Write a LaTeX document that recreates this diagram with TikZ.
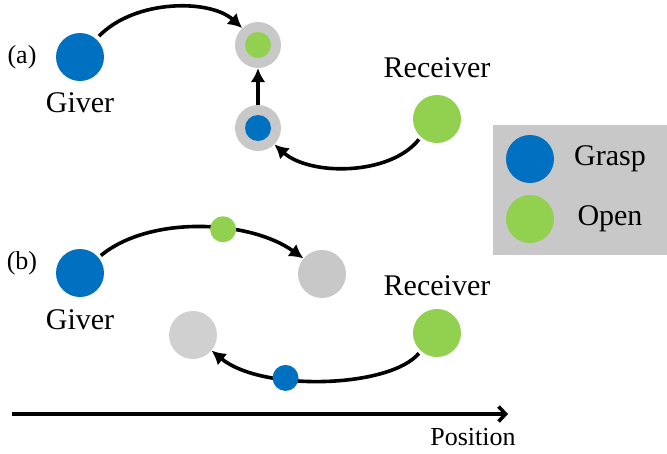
\documentclass[tikz,border=0pt]{standalone}
\usepackage{fontspec}
\setmainfont{Liberation Serif}
\usetikzlibrary{arrows.meta}
\definecolor{graspblue}{RGB}{0,112,192}
\definecolor{opengreen}{RGB}{146,208,80}
\definecolor{ringgray}{RGB}{200,200,200}
\definecolor{ghostgray}{RGB}{208,208,208}
\tikzset{
  dot/.style={circle, inner sep=0pt, minimum size=#1},
  bigdot/.style={dot=48pt},
  smalldot/.style={dot=26pt},
  lbl/.style={font=\fontsize{30}{32}\selectfont, inner sep=0pt},
  small lbl/.style={font=\fontsize{26}{28}\selectfont, inner sep=0pt},
  flow/.style={line width=3.6pt, -{Latex[length=14pt,width=15pt]}},
}
\begin{document}
\begin{tikzpicture}[x=1pt,y=-1pt]
\useasboundingbox (0,0) rectangle (667,453);

% ---------- (a) ----------
\node[small lbl] (la) at (22,57) {(a)};
\node[bigdot, fill=graspblue] (giverA) at (80,57) {};
\node[lbl] (giverAt) at (80,103) {Giver};
\node[bigdot, fill=opengreen] (recvA) at (437,119) {};
\node[lbl] (recvAt) at (437,68) {Receiver};

\node[dot=46pt, fill=ringgray] (ringTop) at (258,45) {};
\node[dot=26pt, fill=opengreen] (inTop) at (258,45) {};
\node[dot=46pt, fill=ringgray] (ringBot) at (258,128) {};
\node[dot=26pt, fill=graspblue] (inBot) at (258,128) {};

\draw[flow, shorten <=4pt] (giverA.48) .. controls (135,-1) and (210,-1) .. (ringTop.133);
\draw[flow] (ringBot.north) -- (ringTop.south);
\draw[flow, shorten <=3pt] (recvA.228) .. controls (390,176) and (310,176) .. (ringBot.-45);

% ---------- legend ----------
\node[fill=ringgray, minimum width=174pt, minimum height=130pt, inner sep=0pt] (legend) at (580,190) {};
\node[bigdot, fill=graspblue] (legGrasp) at (530,159) {};
\node[lbl] (legGraspT) at (610,159) {Grasp};
\node[bigdot, fill=opengreen] (legOpen) at (530,219) {};
\node[lbl] (legOpenT) at (610,219) {Open};

% ---------- (b) ----------
\node[small lbl] (lb) at (22,263) {(b)};
\node[bigdot, fill=graspblue] (giverB) at (80,273) {};
\node[lbl] (giverBt) at (80,320) {Giver};
\node[bigdot, fill=opengreen] (recvB) at (437,333) {};
\node[lbl] (recvBt) at (437,286) {Receiver};
\node[bigdot, fill=ringgray] (ghostR) at (322,274) {};
\node[bigdot, fill=ghostgray] (ghostL) at (193,335) {};

\draw[flow, shorten <=3pt] (giverB.40) .. controls (150,215) and (250,220) .. (ghostR.140)
  node[pos=0.6, smalldot, fill=opengreen] (carryGreen) {};
\draw[flow, shorten <=3pt] (recvB.228) .. controls (390,388) and (262,392) .. (ghostL.-40)
  node[pos=0.65, smalldot, fill=graspblue] (carryBlue) {};

% ---------- position axis ----------
\coordinate (axL) at (12,414);
\coordinate (axR) at (508,414);
\draw[line width=3.6pt, -{Straight Barb[length=7pt,width=15pt]}] (axL) -- (axR);
\node[small lbl] (axT) at (473,437) {Position};
\end{tikzpicture}
\end{document}
